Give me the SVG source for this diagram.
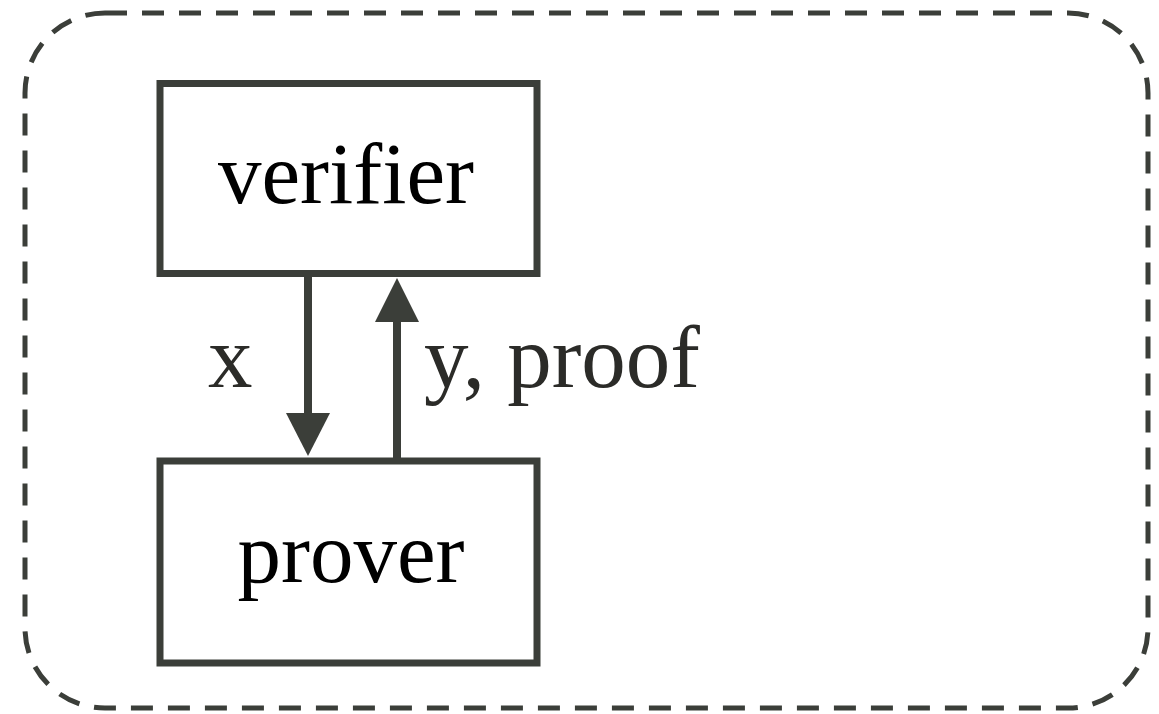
<svg xmlns="http://www.w3.org/2000/svg" width="1159" height="714" viewBox="0 0 1159 714">
  <style>
    .frame { fill: none; stroke: #3b3e39; stroke-width: 5; stroke-dasharray: 22 15; }
    .box { fill: #ffffff; stroke: #3b3e39; stroke-width: 7; }
    .node-label { font-family: "Liberation Serif", "Times New Roman", serif; font-size: 87px; fill: #000000; text-anchor: middle; }
    .edge { stroke: #3b3e39; stroke-width: 8; fill: none; }
    .edge-label { font-family: "Liberation Serif", "Times New Roman", serif; font-size: 89px; fill: #2b2b28; }
    .head { fill: #3b3e39; }
  </style>

  <!-- outer dashed boundary -->
  <rect class="frame" x="25" y="13" width="1123" height="695" rx="80" ry="80"/>

  <g id="verifier">
    <rect class="box" x="160" y="83.5" width="377" height="190"/>
    <text class="node-label" x="346" y="203">verifier</text>
  </g>

  <g id="prover">
    <rect class="box" x="160" y="461" width="377" height="202"/>
    <text class="node-label" x="351" y="582">prover</text>
  </g>

  <g id="connectors">
    <!-- verifier to prover: x -->
    <line class="edge" x1="308" y1="273" x2="308" y2="415"/>
    <polygon class="head" points="286,413 330,413 308,456"/>
    <text class="edge-label" x="208" y="387">x</text>

    <!-- prover to verifier: y, proof -->
    <line class="edge" x1="397" y1="461" x2="397" y2="318"/>
    <polygon class="head" points="375,322 419,322 397,278"/>
    <text class="edge-label" x="424" y="387">y, proof</text>
  </g>
</svg>
